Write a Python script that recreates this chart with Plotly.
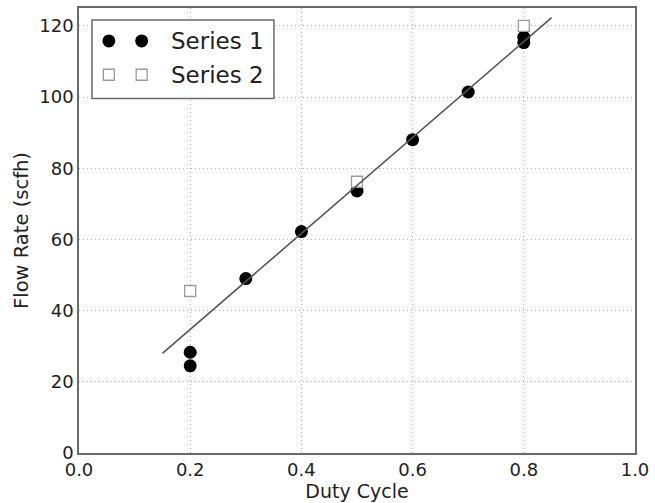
import plotly.graph_objects as go

# Data
s1_x = [0.2, 0.2, 0.3, 0.4, 0.5, 0.6, 0.7, 0.8, 0.8]
s1_y = [28.3, 24.5, 49.0, 62.2, 73.6, 88.0, 101.4, 116.8, 115.3]
s2_x = [0.2, 0.5, 0.8]
s2_y = [45.5, 76.2, 120.0]
fit_x = [0.15, 0.85]
fit_y = [28.0, 122.3]

x_ticks = [0.0, 0.2, 0.4, 0.6, 0.8, 1.0]
y_ticks = [0, 20, 40, 60, 80, 100, 120]

FONT = "DejaVu Sans"

fig = go.Figure()
fig.add_trace(go.Scatter(x=s1_x, y=s1_y, mode="markers", name="Series 1",
                         marker=dict(symbol="circle", size=13, color="black",
                                     line=dict(width=0))))
fig.add_trace(go.Scatter(x=s2_x, y=s2_y, mode="markers", name="Series 2",
                         marker=dict(symbol="square", size=11, color="white",
                                     line=dict(width=1.3, color="#9a9a9a"))))
fig.add_trace(go.Scatter(x=fit_x, y=fit_y, mode="lines", name="fit",
                         line=dict(color="#555555", width=1.6)))

axis_common = dict(showline=True, linecolor="#6a6a6a", linewidth=1.6, mirror=True,
                   showgrid=True, gridcolor="#b4b4b4", griddash="1px,3px", gridwidth=1,
                   zeroline=False, ticks="", tickfont=dict(family=FONT, size=18, color="#222"))

fig.update_xaxes(range=[0, 1], tickvals=x_ticks, ticktext=[f"{v:.1f}" for v in x_ticks],
                 title=dict(text="Duty Cycle", font=dict(family=FONT, size=19, color="#222"),
                            standoff=3), **axis_common)
fig.update_yaxes(range=[0, 125], tickvals=y_ticks,
                 title=dict(text="Flow Rate (scfh)", font=dict(family=FONT, size=19.5, color="#222"),
                            standoff=5), **axis_common)

# Custom legend (matplotlib style with two markers per entry)
shapes = [dict(type="rect", xref="paper", yref="paper", x0=0.0233, x1=0.3506,
               y0=0.7964, y1=0.9732, line=dict(color="#6a6a6a", width=1.5),
               fillcolor="white", layer="above")]
for cx in [0.0537, 0.1127]:
    shapes.append(dict(type="circle", xref="paper", yref="paper", xsizemode="pixel",
                       ysizemode="pixel", xanchor=cx, yanchor=0.926,
                       x0=-6.5, x1=6.5, y0=-6.5, y1=6.5,
                       fillcolor="black", line=dict(width=0), layer="above"))
    shapes.append(dict(type="rect", xref="paper", yref="paper", xsizemode="pixel",
                       ysizemode="pixel", xanchor=cx, yanchor=0.850,
                       x0=-5.5, x1=5.5, y0=-5.5, y1=5.5,
                       fillcolor="white", line=dict(width=1.3, color="#9a9a9a"), layer="above"))

annotations = [
    dict(text="Series 1", xref="paper", yref="paper", x=0.161, y=0.926,
         xanchor="left", yanchor="middle", showarrow=False,
         font=dict(family=FONT, size=23, color="#222")),
    dict(text="Series 2", xref="paper", yref="paper", x=0.161, y=0.850,
         xanchor="left", yanchor="middle", showarrow=False,
         font=dict(family=FONT, size=23, color="#222")),
]

fig.update_layout(width=655, height=503, showlegend=False,
                  margin=dict(l=79, r=17, t=6, b=50),
                  plot_bgcolor="white", paper_bgcolor="white",
                  shapes=shapes, annotations=annotations,
                  font=dict(family=FONT))

fig.write_html("out.html", config={"displayModeBar": False},
               post_script="document.body.style.margin='0';document.body.style.padding='0';")
